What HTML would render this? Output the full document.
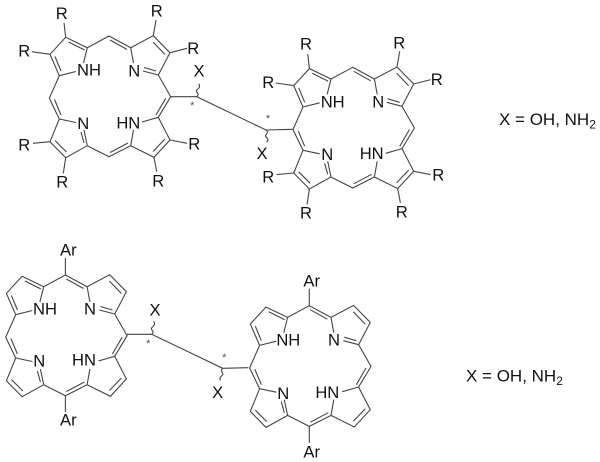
<!DOCTYPE html>
<html>
<head>
<meta charset="utf-8">
<style>
html,body{margin:0;padding:0;background:#fff;width:600px;height:462px;overflow:hidden}
svg{display:block;filter:blur(.35px)}
text{font-family:"Liberation Sans",Arial,sans-serif;font-size:16.6px;fill:#111;text-anchor:middle}
.b{fill:none;stroke:#444;stroke-width:1.1;stroke-linejoin:miter}
.s{font-size:11px;fill:#555}
.f{text-anchor:start;font-size:17px}
</style>
</head>
<body>
<svg width="600" height="462" viewBox="0 0 600 462" xmlns="http://www.w3.org/2000/svg">
<!-- molecule 1 -->
<g class="b">
<path d="M109,36L87.3,47.7L65.7,37.3L50,54.3L59.3,75.7L49.3,98.3L59.3,119L50,141.7L65.7,157.7L87.3,145.7L109,156.7L130.7,145.7L154,157.3L170,140L158.3,117.3L170.7,96.7L158.3,75L170,52.7L153.3,35.7L130.7,47.7Z M87.3,47.7L83.5,63 M59.3,75.7L76,71.5 M130.7,47.7L133.5,63 M158.3,75L143,71 M59.3,119L76,122.5 M87.3,145.7L84,130 M130.7,145.7L133.5,130 M158.3,117.3L142,122 M84.5,50L68.5,42 M55,56.5L61,71 M110,40L127,49.5 M153,42L165,54.5 M144,67.5L156,71 M165.7,98.3L156,115 M54.5,99.5L61,115 M81,132L84,143 M55,140.5L66.5,152 M110,152.5L128,143 M153,151.5L165,139"/>
<path d="M65.7,37.3L64,22.7 M50,54.3L32,51.7 M153.3,35.7L156,20 M170,52.7L187,48.3 M50,141.7L33,143.3 M65.7,157.7L63.3,173.3 M154,157.3L156.7,171.7 M170,140L187,143.3"/>
</g>
<!-- molecule 2 -->
<g class="b" transform="translate(243.7,31.3)">
<path d="M109,36L87.3,47.7L65.7,37.3L50,54.3L59.3,75.7L49.3,98.3L59.3,119L50,141.7L65.7,157.7L87.3,145.7L109,156.7L130.7,145.7L154,157.3L170,140L158.3,117.3L170.7,96.7L158.3,75L170,52.7L153.3,35.7L130.7,47.7Z M87.3,47.7L83.5,63 M59.3,75.7L76,71.5 M130.7,47.7L133.5,63 M158.3,75L143,71 M59.3,119L76,122.5 M87.3,145.7L84,130 M130.7,145.7L133.5,130 M158.3,117.3L142,122 M84.5,50L68.5,42 M55,56.5L61,71 M110,40L127,49.5 M153,42L165,54.5 M144,67.5L156,71 M165.7,98.3L156,115 M54.5,99.5L61,115 M81,132L84,143 M55,140.5L66.5,152 M110,152.5L128,143 M153,151.5L165,139"/>
<path d="M65.7,37.3L64,22.7 M50,54.3L32,51.7 M153.3,35.7L156,20 M170,52.7L187,48.3 M50,141.7L33,143.3 M65.7,157.7L63.3,173.3 M154,157.3L156.7,171.7 M170,140L187,143.3"/>
</g>
<!-- molecule 3 -->
<g class="b" transform="translate(-43.6,239)">
<path d="M109,36L87.3,47.7L65.7,37.3L50,54.3L59.3,75.7L49.3,98.3L59.3,119L50,141.7L65.7,157.7L87.3,145.7L109,156.7L130.7,145.7L154,157.3L170,140L158.3,117.3L170.7,96.7L158.3,75L170,52.7L153.3,35.7L130.7,47.7Z M87.3,47.7L83.5,63 M59.3,75.7L76,71.5 M130.7,47.7L133.5,63 M158.3,75L143,71 M59.3,119L76,122.5 M87.3,145.7L84,130 M130.7,145.7L133.5,130 M158.3,117.3L142,122 M84.5,50L68.5,42 M55,56.5L61,71 M110,40L127,49.5 M153,42L165,54.5 M144,67.5L156,71 M165.7,98.3L156,115 M54.5,99.5L61,115 M81,132L84,143 M55,140.5L66.5,152 M110,152.5L128,143 M153,151.5L165,139"/>
<path d="M109,36L109,19 M109,156.7L109,173"/>
</g>
<!-- molecule 4 -->
<g class="b" transform="translate(200.3,269.7)">
<path d="M109,36L87.3,47.7L65.7,37.3L50,54.3L59.3,75.7L49.3,98.3L59.3,119L50,141.7L65.7,157.7L87.3,145.7L109,156.7L130.7,145.7L154,157.3L170,140L158.3,117.3L170.7,96.7L158.3,75L170,52.7L153.3,35.7L130.7,47.7Z M87.3,47.7L83.5,63 M59.3,75.7L76,71.5 M130.7,47.7L133.5,63 M158.3,75L143,71 M59.3,119L76,122.5 M87.3,145.7L84,130 M130.7,145.7L133.5,130 M158.3,117.3L142,122 M84.5,50L68.5,42 M55,56.5L61,71 M110,40L127,49.5 M153,42L165,54.5 M144,67.5L156,71 M165.7,98.3L156,115 M54.5,99.5L61,115 M81,132L84,143 M55,140.5L66.5,152 M110,152.5L128,143 M153,151.5L165,139"/>
<path d="M109,36L109,19 M109,156.7L109,173"/>
</g>
<!-- linkers -->
<g class="b">
<path d="M170.7,96.7L196.7,96.7L266,130L292.7,129.3"/>
<path d="M196.7,96.7q2.5,-2 .5,-4q-2,-2 1,-4q2.5,-2 .5,-5"/>
<path d="M266,130q2.5,2 .5,4q-2,2 .5,4q2,2 -.5,4"/>
<path d="M127,334.3L151.7,334.3L222.7,368.3L248.3,367.7"/>
<path d="M151.7,334.3q2.5,-2 .5,-4q-2,-2 1,-4q2.5,-2 .5,-5"/>
<path d="M222.7,368.3q-2.5,2 -.5,4q2,2 -1,4q-2.5,2 -.5,4"/>
</g>
<!-- molecule 1 labels -->
<text x="61.7" y="19">R</text><text x="156.7" y="16.7">R</text><text x="24.3" y="56.7">R</text><text x="193.3" y="54">R</text>
<text x="24.3" y="150.7">R</text><text x="194.3" y="149.7">R</text><text x="62.3" y="187.4">R</text><text x="158.3" y="186.4">R</text>
<text x="89" y="75.7">NH</text><text x="134.3" y="76.4">N</text><text x="83.3" y="129">N</text><text x="128.3" y="128.4">HN</text>
<text x="199" y="76.7">X</text><text class="s" x="192.3" y="109">*</text>
<!-- molecule 2 labels -->
<text x="306" y="49.7">R</text><text x="399.3" y="48.4">R</text><text x="268.3" y="88">R</text><text x="436.7" y="85">R</text>
<text x="268.3" y="182.4">R</text><text x="438.3" y="180.7">R</text><text x="306" y="218.4">R</text><text x="401.7" y="217.4">R</text>
<text x="332.7" y="107.4">NH</text><text x="378.3" y="107.4">N</text><text x="327.3" y="160">N</text><text x="371.7" y="159">HN</text>
<text x="262" y="159">X</text><text class="s" x="268" y="122">*</text>
<!-- molecule 3 labels -->
<text x="68.3" y="255.7">Ar</text><text x="68.3" y="425.7">Ar</text>
<text x="45" y="314.7">NH</text><text x="90" y="314.7">N</text><text x="39.3" y="366.7">N</text><text x="84" y="365.7">HN</text>
<text x="155" y="315.7">X</text><text class="s" x="148.3" y="347">*</text>
<!-- molecule 4 labels -->
<text x="311.7" y="286.4">Ar</text><text x="311.7" y="457.4">Ar</text>
<text x="288.3" y="345.7">NH</text><text x="334" y="345.7">N</text><text x="283.3" y="399">N</text><text x="327.3" y="398">HN</text>
<text x="217.7" y="398">X</text><text class="s" x="224.3" y="361">*</text>
<!-- legends -->
<text class="f" x="499" y="125">X = OH, NH<tspan font-size="12" dy="3.5">2</tspan></text>
<text class="f" x="466" y="381.7">X = OH, NH<tspan font-size="12" dy="3.5">2</tspan></text>
</svg>
</body>
</html>
